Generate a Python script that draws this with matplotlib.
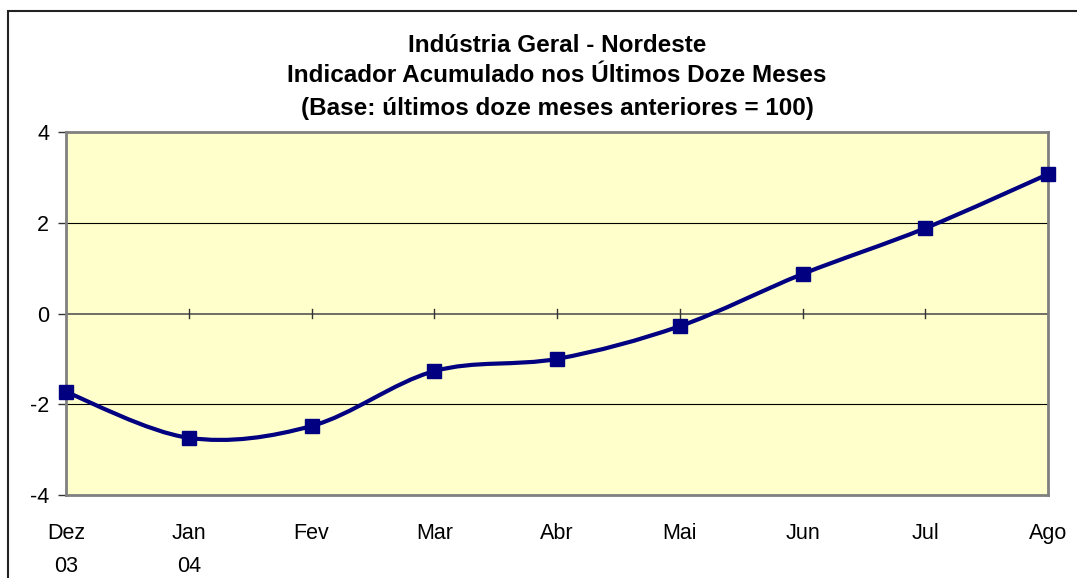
import matplotlib
matplotlib.use("Agg")
import matplotlib.pyplot as plt
from matplotlib.path import Path
from matplotlib.patches import PathPatch, Rectangle
import numpy as np

plt.rcParams['font.family'] = ['Liberation Sans', 'DejaVu Sans']

# data
months = ["Dez\n03", "Jan\n04", "Fev", "Mar", "Abr", "Mai", "Jun", "Jul", "Ago"]
values = [-1.73, -2.74, -2.48, -1.27, -1.00, -0.28, 0.87, 1.88, 3.07]
yticks = [-4, -2, 0, 2, 4]

fig = plt.figure(figsize=(10.77, 5.78), dpi=100)
ax = fig.add_axes([66 / 1077, 83 / 578, 982 / 1077, 363 / 578])
ax.set_facecolor("#FFFFCC")

x = np.arange(len(values))
y = np.array(values)

# smoothed line (Catmull-Rom style bezier, like Excel's smoothed line)
verts = [(x[0], y[0])]
codes = [Path.MOVETO]
n = len(x)
for i in range(n - 1):
    p0 = np.array([x[max(i - 1, 0)], y[max(i - 1, 0)]])
    p1 = np.array([x[i], y[i]])
    p2 = np.array([x[i + 1], y[i + 1]])
    p3 = np.array([x[min(i + 2, n - 1)], y[min(i + 2, n - 1)]])
    c1 = p1 + (p2 - p0) / 6
    c2 = p2 - (p3 - p1) / 6
    verts += [tuple(c1), tuple(c2), tuple(p2)]
    codes += [Path.CURVE4] * 3
ax.add_patch(PathPatch(Path(verts, codes), facecolor="none", edgecolor="#000080",
                       lw=3.0, zorder=3, clip_on=False))
ax.plot(x, y, linestyle="none", marker="s", markersize=9.5, color="#000080",
        zorder=4, clip_on=False)

ax.set_xlim(0, len(values) - 1)
ax.set_ylim(-4, 4)

# gridlines
for t in [-2, 2]:
    ax.axhline(t, color="black", lw=0.8, zorder=1)

# horizontal axis at zero with category ticks crossing it
ax.axhline(0, color="#555555", lw=1.2, zorder=1)
for xi in x[1:]:
    ax.plot([xi, xi], [-0.1, 0.1], color="#333333", lw=1.0, zorder=2)

ax.set_yticks(yticks)
ax.set_yticklabels([str(t) for t in yticks], fontsize=15.5)
ax.tick_params(axis="y", length=6, width=1, color="#333333", pad=6)
ax.set_xticks(x)
ax.set_xticklabels(months, fontsize=15.5, linespacing=1.75)
ax.tick_params(axis="x", length=0, pad=20)

for s in ax.spines.values():
    s.set_color("#808080")
    s.set_linewidth(2)

fig.text(557 / 1077, 1 - 45 / 578, "Indústria Geral - Nordeste", ha="center",
         va="center", fontsize=17.5, fontweight="bold")
fig.text(557 / 1077, 1 - 76 / 578, "Indicador Acumulado nos Últimos Doze Meses",
         ha="center", va="center", fontsize=17.5, fontweight="bold")
fig.text(557 / 1077, 1 - 108 / 578, "(Base: últimos doze meses anteriores = 100)",
         ha="center", va="center", fontsize=17.5, fontweight="bold")

# outer chart frame
fig.patches.append(Rectangle((8 / 1077, -0.05), 1.1, 1.05 - 11 / 578,
                             transform=fig.transFigure, facecolor="none",
                             edgecolor="#222222", lw=1.5))

fig.savefig("out.png", dpi=100)
